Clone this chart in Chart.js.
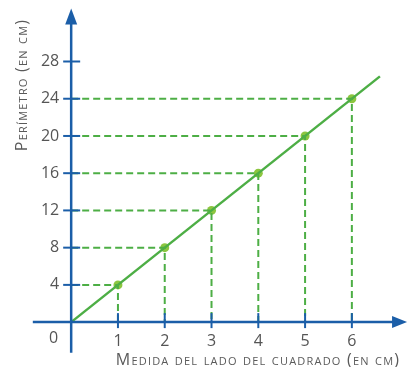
<!DOCTYPE html>
<html>
<head>
<meta charset="utf-8">
<script src="https://cdn.jsdelivr.net/npm/chart.js@4.4.1/dist/chart.umd.min.js"></script>
<style>
  html, body { margin: 0; padding: 0; background: #fff; }
  #wrap { width: 409px; height: 367px; }
</style>
</head>
<body>
<div id="wrap"><canvas id="perimetroChart"></canvas></div>
<script>
// datos
const ladoCuadrado = [1, 2, 3, 4, 5, 6];
const perimetro = [4, 8, 12, 16, 20, 24];
const rectaX = [0, 6.6];
const rectaY = [0, 26.4];
const ticksX = [1, 2, 3, 4, 5, 6];
const ticksY = [4, 8, 12, 16, 20, 24, 28];
const tituloX = 'Medida del lado del cuadrado (en cm)';
const tituloY = 'Perímetro (en cm)';

const AZUL = '#1b5ea8';
const VERDE = '#4dae45';
const VERDE_PUNTO = '#8cc63f';
const GRIS = '#555';
const FUENTE = '"Open Sans", "DejaVu Sans", sans-serif';

// lineas punteadas: del eje Y al punto y del punto al eje X
const guias = ladoCuadrado.map((x, i) => ({
    data: [{ x: 0, y: perimetro[i] }, { x: x, y: perimetro[i] }, { x: x, y: 0 }],
    showLine: true,
    borderColor: VERDE,
    borderWidth: 2,
    borderDash: [7, 4],
    pointRadius: 0,
    fill: false
}));

const ejesPlugin = {
    id: 'ejes',
    afterDatasetsDraw(chart) {
        const ctx = chart.ctx;
        const xs = chart.scales.x, ys = chart.scales.y;
        const ox = xs.getPixelForValue(0), oy = ys.getPixelForValue(0);
        const xIni = xs.getPixelForValue(-0.82), xFin = xs.getPixelForValue(7.18);
        const yIni = ys.getPixelForValue(-3.3), yFin = ys.getPixelForValue(33.7);

        ctx.save();
        ctx.strokeStyle = AZUL;
        ctx.fillStyle = AZUL;
        ctx.lineWidth = 2.5;
        ctx.setLineDash([]);

        // eje x
        ctx.beginPath();
        ctx.moveTo(xIni, oy);
        ctx.lineTo(xFin - 12, oy);
        ctx.stroke();
        ctx.beginPath();
        ctx.moveTo(xFin, oy);
        ctx.lineTo(xFin - 15, oy - 6);
        ctx.lineTo(xFin - 15, oy + 6);
        ctx.closePath();
        ctx.fill();

        // eje y
        ctx.beginPath();
        ctx.moveTo(ox, yIni);
        ctx.lineTo(ox, yFin + 12);
        ctx.stroke();
        ctx.beginPath();
        ctx.moveTo(ox, yFin);
        ctx.lineTo(ox - 6, yFin + 16);
        ctx.lineTo(ox + 6, yFin + 16);
        ctx.closePath();
        ctx.fill();

        // marcas
        ctx.lineWidth = 2;
        ticksX.forEach(v => {
            const px = xs.getPixelForValue(v);
            ctx.beginPath();
            ctx.moveTo(px, oy - 9);
            ctx.lineTo(px, oy + 6);
            ctx.stroke();
        });
        ticksY.forEach(v => {
            const py = ys.getPixelForValue(v);
            ctx.beginPath();
            ctx.moveTo(ox - 8, py);
            ctx.lineTo(ox + 9, py);
            ctx.stroke();
        });

        // etiquetas
        ctx.fillStyle = GRIS;
        ctx.font = '16px ' + FUENTE;
        ctx.textAlign = 'center';
        ctx.textBaseline = 'middle';
        ticksX.forEach(v => ctx.fillText(String(v), xs.getPixelForValue(v), oy + 19));
        ctx.textAlign = 'right';
        ticksY.forEach(v => ctx.fillText(String(v), ox - 12, ys.getPixelForValue(v)));
        ctx.fillText('0', ox - 13, oy + 16);

        // titulos en versalitas
        ctx.fillStyle = '#5a5a5a';
        ctx.font = '16px ' + FUENTE;
        if ('fontVariantCaps' in ctx) ctx.fontVariantCaps = 'small-caps';
        if ('letterSpacing' in ctx) ctx.letterSpacing = '1.2px';
        ctx.textAlign = 'center';
        ctx.textBaseline = 'alphabetic';
        ctx.fillText(tituloX, 258, 365);
        ctx.save();
        ctx.translate(27, 85);
        ctx.rotate(-Math.PI / 2);
        ctx.fillText(tituloY, 0, 0);
        ctx.restore();
        ctx.restore();
    }
};

new Chart(document.getElementById('perimetroChart'), {
    type: 'scatter',
    data: {
        datasets: [
            ...guias,
            {
                data: rectaX.map((x, i) => ({ x: x, y: rectaY[i] })),
                showLine: true,
                borderColor: VERDE,
                borderWidth: 2.5,
                pointRadius: 0,
                fill: false
            },
            {
                data: ladoCuadrado.map((x, i) => ({ x: x, y: perimetro[i] })),
                showLine: false,
                pointRadius: 4.5,
                pointBackgroundColor: VERDE_PUNTO,
                pointBorderColor: VERDE_PUNTO,
                pointBorderWidth: 0
            }
        ]
    },
    options: {
        responsive: true,
        maintainAspectRatio: false,
        animation: false,
        layout: { autoPadding: false, padding: { left: 1, right: 1, top: 1, bottom: 3 } },
        plugins: { legend: { display: false }, tooltip: { enabled: false } },
        scales: {
            x: { type: 'linear', min: -1.5, max: 7.2, display: false },
            y: { type: 'linear', min: -4.5, max: 34.5, display: false }
        }
    },
    plugins: [ejesPlugin]
});
</script>
</body>
</html>
